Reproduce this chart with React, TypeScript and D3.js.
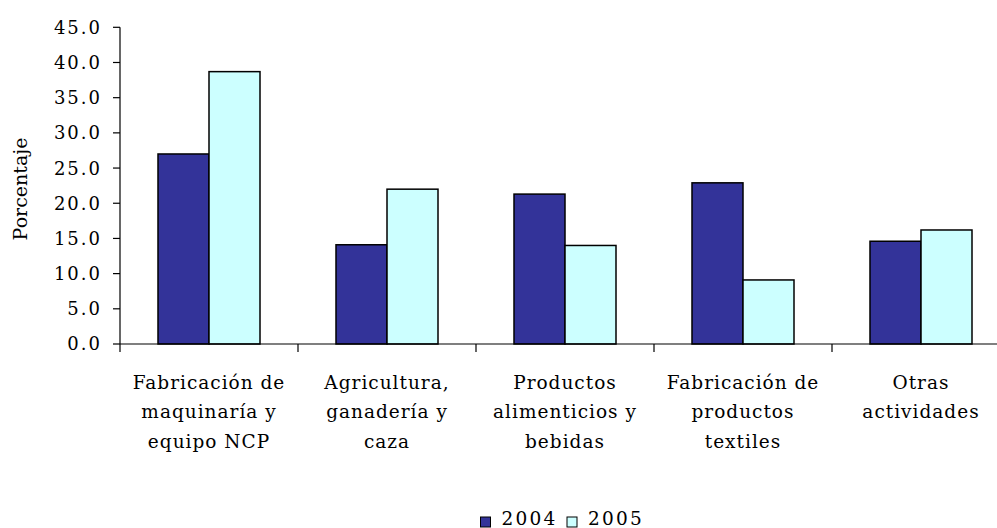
import React from "react";
import * as d3 from "d3";

const categories = [
  ["Fabricación de", "maquinaría y", "equipo NCP"],
  ["Agricultura,", "ganadería y", "caza"],
  ["Productos", "alimenticios y", "bebidas"],
  ["Fabricación de", "productos", "textiles"],
  ["Otras", "actividades"],
];
const seriesNames = ["2004", "2005"];
const values2004 = [27.0, 14.1, 21.3, 22.9, 14.6];
const values2005 = [38.7, 22.0, 14.0, 9.1, 16.2];
const yTicks = [0, 5, 10, 15, 20, 25, 30, 35, 40, 45];
const colors = ["#333399", "#CCFFFF"];

const W = 997;
const H = 528;
const left = 120;
const right = 1010;
const top = 27.3;
const bottom = 344;
const FONT = "'DejaVu Serif', serif";

export default function App() {
  const idx = categories.map((_, i) => String(i));
  const x = d3.scaleBand<string>().domain(idx).range([left, right]).paddingInner(0).paddingOuter(0);
  const inner = d3.scaleBand<string>().domain(seriesNames).range([0, x.bandwidth()]).paddingInner(0).paddingOuter(0.745);
  const y = d3.scaleLinear().domain([0, 45]).range([bottom, top]);
  const data = [values2004, values2005];

  return (
    <svg width={W} height={H} style={{ position: "absolute", left: 0, top: 0, background: "#fff" }}>
      {/* bars */}
      {idx.map((c, i) => (
        <g key={c}>
          {seriesNames.map((s, j) => (
            <rect
              key={s}
              x={(x(c) as number) + (inner(s) as number)}
              y={y(data[j][i])}
              width={inner.bandwidth()}
              height={bottom - y(data[j][i])}
              fill={colors[j]}
              stroke="#000"
              strokeWidth={1.5}
            />
          ))}
        </g>
      ))}
      {/* y axis */}
      <line x1={left} x2={left} y1={top} y2={bottom + 8} stroke="#000" strokeWidth={1.2} />
      {yTicks.map((t) => (
        <g key={t}>
          <line x1={left - 7} x2={left} y1={y(t)} y2={y(t)} stroke="#000" strokeWidth={1.2} />
          <text x={left - 18} y={y(t)} dy="0.36em" textAnchor="end" fontFamily={FONT} fontSize={18} letterSpacing={2} fill="#000">
            {t.toFixed(1)}
          </text>
        </g>
      ))}
      {/* x axis */}
      <line x1={left} x2={right} y1={bottom} y2={bottom} stroke="#000" strokeWidth={1.2} />
      {idx.slice(1).map((c) => (
        <line key={c} x1={x(c)} x2={x(c)} y1={bottom} y2={bottom + 8} stroke="#000" strokeWidth={1.2} />
      ))}
      {categories.map((lines, i) => (
        <text
          key={i}
          textAnchor="middle"
          fontFamily={FONT}
          fontSize={18.5}
          letterSpacing={1}
          fill="#000"
        >
          {lines.map((l, k) => (
            <tspan key={k} x={(x(String(i)) as number) + x.bandwidth() / 2} y={382 + k * 29.5} dy="0.36em">
              {l}
            </tspan>
          ))}
        </text>
      ))}
      {/* y label */}
      <text
        transform={`translate(27,189) rotate(-90)`}
        textAnchor="middle"
        fontFamily={FONT}
        fontSize={19}
        fill="#000"
      >
        Porcentaje
      </text>
      {/* legend */}
      {seriesNames.map((s, j) => (
        <g key={s} transform={`translate(${480.5 + j * 86.5},0)`}>
          <rect x={0} y={517} width={10} height={10} fill={colors[j]} stroke="#000" strokeWidth={1} />
          <text x={21} y={525} fontFamily={FONT} fontSize={18.5} letterSpacing={2.2} fill="#000">
            {s}
          </text>
        </g>
      ))}
    </svg>
  );
}
